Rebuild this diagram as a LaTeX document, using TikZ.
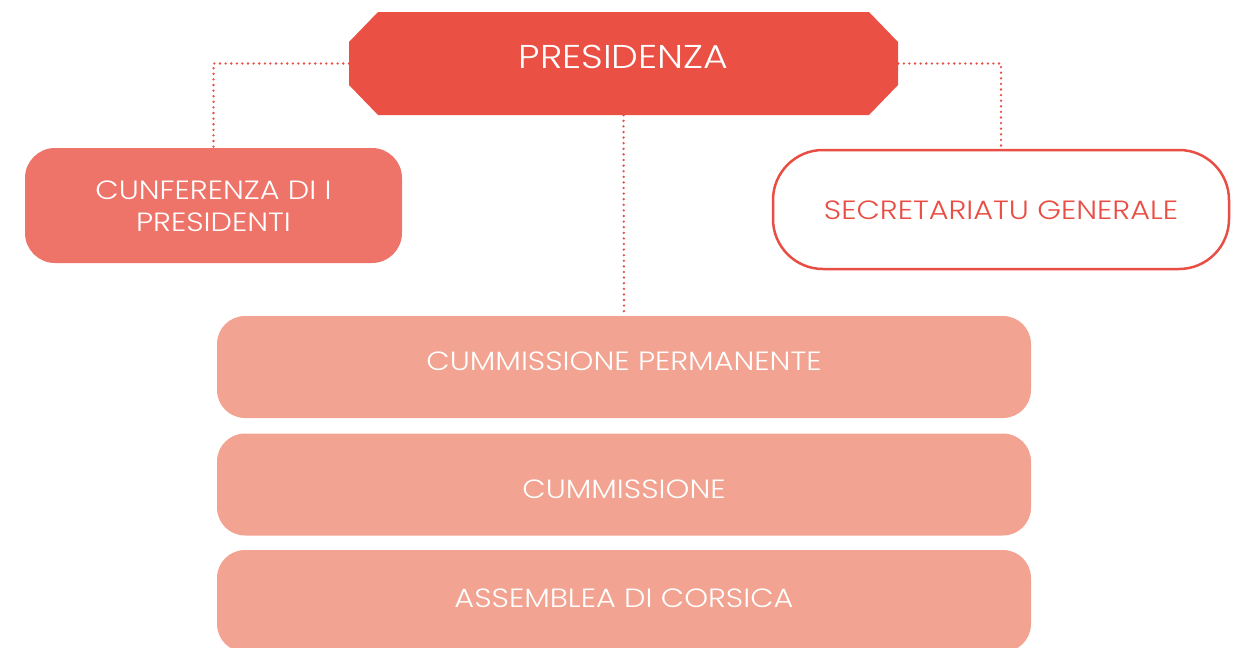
\documentclass[tikz,border=0pt]{standalone}
\usepackage{fontspec}
\setmainfont{Poppins}[UprightFont={* Light}, FakeStretch=1.15]
\definecolor{presred}{HTML}{EA5044}
\definecolor{confred}{HTML}{EE7469}
\definecolor{salmon}{HTML}{F2A391}
\definecolor{linered}{HTML}{E94E45}
\tikzset{
  dotline/.style={draw=linered, line width=2.6pt, line cap=round, dash pattern=on 0pt off 5.6pt},
  salbox/.style={rectangle, rounded corners=28pt, fill=salmon, minimum width=814pt, minimum height=102pt, inner sep=0pt},
  wtext/.style={text=white, font=\fontsize{26.4}{30}\selectfont, inner sep=0pt},
}
\begin{document}
\begin{tikzpicture}[x=1pt,y=-1pt]
\clip (0,0) rectangle (1243,648);
\useasboundingbox (0,0) rectangle (1243,648);
% Presidenza octagon
\fill[presred] (378,12) -- (869,12) -- (898,42) -- (898,85) -- (869,115) -- (378,115) -- (349,85) -- (349,42) -- cycle;
\node[rectangle, minimum width=549pt, minimum height=103pt, inner sep=0pt] (pres) at (623.5,63.5) {};
\node[text=white, font=\fontsize{33}{38}\selectfont, inner sep=0pt] (presT) at (623.5,57) {PRESIDENZA};
% Conferenza
\node[rectangle, rounded corners=30pt, fill=confred, minimum width=377pt, minimum height=115pt, inner sep=0pt] (conf) at (213.5,205.5) {};
\node[wtext, align=center, font=\fontsize{26.4}{32}\selectfont] (confT) at (213.5,206) {CUNFERENZA DI I\\PRESIDENTI};
% Secretariatu
\node[rectangle, rounded corners=50pt, draw=linered, line width=2.5pt, fill=white, minimum width=456pt, minimum height=119pt, inner sep=0pt] (secr) at (1001,209.5) {};
\node[text=linered, font=\fontsize{26.4}{30}\selectfont, inner sep=0pt] (secrT) at (1001,210) {SECRETARIATU GENERALE};
% Bottom boxes
\node[salbox] (cperm) at (624,367) {};
\node[wtext] (cpermT) at (624,361.5) {CUMMISSIONE PERMANENTE};
\node[salbox] (cumm) at (624,484.5) {};
\node[wtext] (cummT) at (624,489.5) {CUMMISSIONE};
\node[salbox] (ass) at (624,601) {};
\node[wtext] (assT) at (624,598.5) {ASSEMBLEA DI CORSICA};
% Connectors
\draw[dotline] (pres.west) -| (conf.north);
\draw[dotline] (pres.east) -| (secr.north);
\draw[dotline] (pres.south) -- (cperm.north);
\end{tikzpicture}
\end{document}
